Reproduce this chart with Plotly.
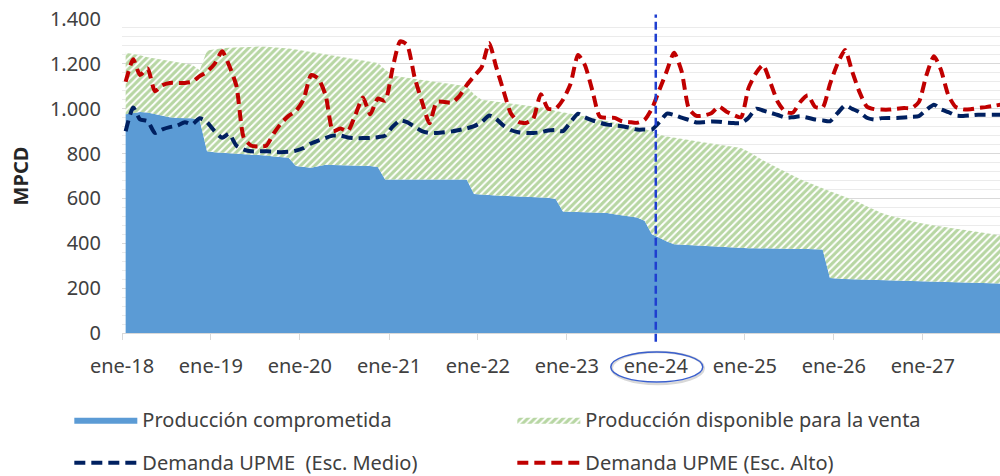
import plotly.graph_objects as go
import numpy as np

# ---------------- data (MPCD, monthly from Jan 2018) ----------------
n_meses = 119
meses = [f"{2018 + i // 12}-{i % 12 + 1:02d}-16" for i in range(n_meses)]

produccion_comprometida = [
    975, 980, 985, 983, 976, 970, 962, 959, 959, 958, 950,
    810, 806, 804, 802, 800, 800, 797, 794, 791, 787, 784, 781,
    745, 740, 737, 743, 750, 749, 748, 747, 746, 746, 745, 740,
    684, 684, 684, 684, 684, 684, 684, 684, 684, 684, 684, 684,
    620, 616, 615, 613, 612, 610, 609, 607, 606, 604, 603, 598,
    542, 541, 540, 539, 538, 537, 535, 530, 525, 520, 515, 500,
    440, 425, 408, 396, 394, 392, 390, 388, 386, 384, 382, 381,
    379, 378, 378, 377, 377, 376, 376, 375, 374, 374, 373, 372,
    245, 242, 241, 240, 239, 239, 238, 238, 238, 237, 236, 235,
    234, 233, 232, 231, 230, 228, 227, 226, 225, 224, 222, 221,
]

produccion_total = [
    1250, 1245, 1238, 1230, 1225, 1218, 1212, 1207, 1202, 1196, 1172,
    1260, 1266, 1270, 1272, 1274, 1276, 1277, 1277, 1276, 1274, 1272, 1268,
    1264, 1258, 1252, 1247, 1242, 1236, 1231, 1226, 1221, 1215, 1210, 1204,
    1175, 1148, 1142, 1137, 1133, 1128, 1124, 1119, 1114, 1108, 1104, 1100,
    1065, 1040, 1035, 1031, 1027, 1023, 1018, 1014, 1010, 1006, 1002, 990,
    985, 978, 972, 965, 958, 952, 946, 939, 932, 925, 918, 910,
    900, 884, 876, 870, 865, 860, 855, 850, 844, 840, 835, 830,
    825, 808, 790, 770, 752, 735, 718, 700, 686, 672, 658, 645,
    632, 620, 608, 596, 582, 565, 548, 535, 524, 515, 507, 499,
    492, 485, 479, 474, 469, 465, 460, 455, 450, 445, 440, 435,
]

demanda_medio = [
    900, 1005, 952, 945, 892, 908, 918, 925, 940, 930, 957,
    940, 900, 870, 888, 835, 818, 810, 810, 810, 808, 806, 808,
    813, 825, 845, 858, 870, 880, 880, 872, 869, 869, 870, 873,
    880, 920, 948, 940, 920, 900, 892, 892, 895, 899, 905, 912,
    922, 940, 970, 955, 925, 905, 895, 892, 892, 895, 903, 905,
    900, 940, 978, 962, 948, 938, 929, 926, 922, 915, 907, 907,
    907, 940, 978, 972, 960, 950, 939, 940, 943, 942, 938, 936,
    936, 960, 1000, 992, 982, 972, 960, 962, 966, 960, 952, 948,
    944, 980, 1015, 1000, 985, 960, 952, 958, 959, 959, 961, 964,
    967, 995, 1018, 998, 985, 970, 968, 970, 973, 973, 973, 973,
]

demanda_alto = [
    1120, 1220, 1150, 1180, 1078, 1105, 1115, 1115, 1115, 1120, 1145,
    1165, 1200, 1256, 1195, 1100, 870, 835, 832, 835, 890, 935, 968,
    990, 1040, 1150, 1135, 1060, 900, 912, 900, 973, 1050, 975, 1045,
    1035, 1182, 1300, 1285, 1140, 1033, 935, 1030, 1030, 1027, 1055, 1105,
    1145, 1185, 1293, 1190, 1080, 980, 942, 936, 955, 1065, 1000, 1000,
    1040, 1110, 1240, 1195, 1080, 965, 959, 959, 944, 940, 937, 950,
    1000, 1085, 1170, 1250, 1167, 1000, 968, 970, 980, 1010, 988, 972,
    962, 1093, 1160, 1195, 1115, 1030, 986, 982, 1030, 1060, 1008, 1005,
    1110, 1200, 1262, 1170, 1075, 1010, 998, 996, 996, 1000, 1003, 1003,
    1030, 1150, 1234, 1175, 1060, 1008, 997, 998, 1003, 1007, 1012, 1018,
]

anios_ticks = list(range(2018, 2028))
tick_fechas = [f"{a}-01-01" for a in anios_ticks]
tick_textos = [f"ene-{a % 100:02d}" for a in anios_ticks]
fecha_corte = "2024-01-01"

produccion_disponible = (np.array(produccion_total) - np.array(produccion_comprometida)).tolist()

# ---------------- figure ----------------
AZUL = "#5b9bd5"
VERDE = "#70ad47"
NAVY = "#002060"
ROJO = "#c00000"
TXT = "#404040"

fig = go.Figure()
fig.add_trace(go.Scatter(
    x=meses, y=produccion_comprometida, name="Producción comprometida",
    stackgroup="prod", mode="lines", line=dict(width=0, color=AZUL),
    fillcolor=AZUL, legend="legend", hoverinfo="skip"))
fig.add_trace(go.Scatter(
    x=meses, y=produccion_disponible, name="Producción disponible para la venta",
    stackgroup="prod", mode="lines", line=dict(width=0, color=VERDE),
    fillcolor="white",
    fillpattern=dict(shape="/", fgcolor=VERDE, bgcolor="white", size=5, solidity=0.62),
    legend="legend", hoverinfo="skip"))
fig.add_trace(go.Scatter(
    x=meses, y=demanda_medio, name="Demanda UPME\u00a0 (Esc. Medio)", mode="lines",
    line=dict(color=NAVY, width=4, dash="11px,6px", shape="spline", smoothing=0.6),
    legend="legend2", hoverinfo="skip"))
fig.add_trace(go.Scatter(
    x=meses, y=demanda_alto, name="Demanda UPME (Esc. Alto)", mode="lines",
    line=dict(color=ROJO, width=4, dash="11px,6px", shape="spline", smoothing=0.6),
    legend="legend2", hoverinfo="skip"))

# vertical reference line and ellipse around ene-24
fig.add_shape(type="line", xref="x", yref="paper", x0=fecha_corte, x1=fecha_corte,
              y0=-0.028, y1=1.014, line=dict(color="#1f3fd0", width=2.5, dash="8px,4px"))
fig.add_shape(type="circle", xref="x", yref="paper", xsizemode="pixel", ysizemode="pixel",
              xanchor=fecha_corte, yanchor=0, x0=-44, x1=48, y0=-51, y1=-19,
              line=dict(color="#d8d8d8", width=2.5))
fig.add_shape(type="circle", xref="x", yref="paper", xsizemode="pixel", ysizemode="pixel",
              xanchor=fecha_corte, yanchor=0, x0=-45, x1=47, y0=-49, y1=-19,
              line=dict(color="#3a5fcd", width=1.5))

legend_common = dict(orientation="h", xanchor="left", yanchor="middle",
                     itemwidth=63, entrywidth=365, entrywidthmode="pixels",
                     font=dict(family="Noto Sans", size=20, color=TXT),
                     bgcolor="rgba(0,0,0,0)", traceorder="normal")

fig.update_layout(
    width=1000, height=476,
    margin=dict(l=122, r=0, t=19, b=143, autoexpand=False),
    paper_bgcolor="white", plot_bgcolor="white",
    font=dict(family="Noto Sans", size=20, color=TXT),
    separators=",.",
    showlegend=True,
    legend=dict(x=-0.06, y=-0.276, **legend_common),
    legend2=dict(x=-0.06, y=-0.413, **legend_common),
    xaxis=dict(
        type="date", range=["2018-01-01", "2027-11-14"],
        tickmode="array", tickvals=tick_fechas, ticktext=tick_textos,
        ticks="outside", ticklen=6, tickcolor="#d9d9d9", tickwidth=1,
        showline=True, linecolor="#d9d9d9", linewidth=1,
        showgrid=False, zeroline=False,
        tickfont=dict(size=20, color=TXT), ticklabelstandoff=9,
    ),
    yaxis=dict(
        range=[0, 1400], tick0=0, dtick=200, tickformat=",d",
        showgrid=True, gridcolor="#d9d9d9", gridwidth=1,
        minor=dict(dtick=40, showgrid=True, gridcolor="#ebebeb", gridwidth=1),
        zeroline=False, showline=False, ticks="",
        tickfont=dict(size=20, color=TXT), ticklabelstandoff=20,
        title=dict(text="<b>MPCD</b>", standoff=15, font=dict(size=20, color="#262626")),
    ),
)

# remove the default page margin so the 1000x476 figure fills the window exactly
fig.write_html("out.html",
               config={"displayModeBar": False},
               post_script="document.body.style.margin='0';document.body.style.overflow='hidden';")
